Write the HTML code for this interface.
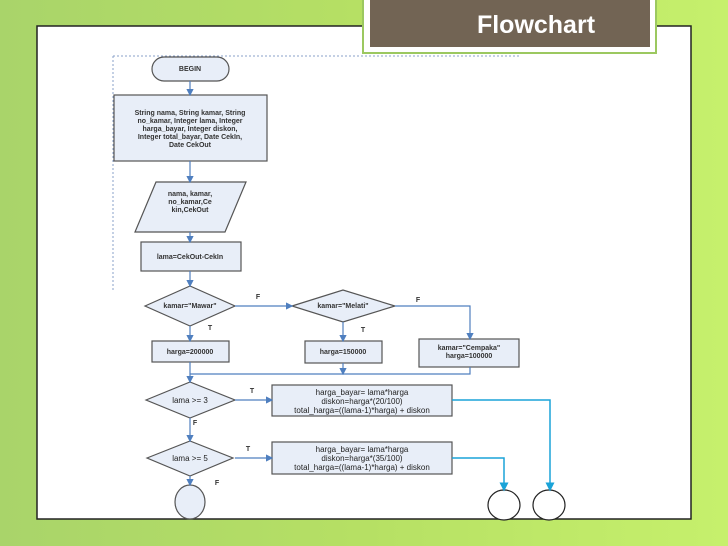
<!DOCTYPE html><html><head><style>body{margin:0}svg{display:block}</style></head><body>
<svg width="728" height="546" viewBox="0 0 728 546" xmlns="http://www.w3.org/2000/svg" font-family="Liberation Sans, sans-serif">
<defs>
<linearGradient id="bg" x1="0" x2="1"><stop offset="0" stop-color="#a9d46a"/><stop offset="0.5" stop-color="#b6e064"/><stop offset="1" stop-color="#c6f06c"/></linearGradient>
<marker id="a" markerWidth="6" markerHeight="6" refX="5" refY="3" orient="auto"><path d="M0,0L6,3L0,6z" fill="#4f7fbf"/></marker>
<marker id="c" markerWidth="6" markerHeight="6" refX="5" refY="3" orient="auto"><path d="M0,0L6,3L0,6z" fill="#1aa3d8"/></marker>
</defs>
<rect width="728" height="546" fill="url(#bg)"/>
<rect x="37" y="26" width="654" height="493" fill="#fff" stroke="#222" stroke-width="1.5"/>
<rect x="363" y="-2" width="293" height="55" fill="#fff" stroke="#9cc860" stroke-width="2"/>
<rect x="370" y="0" width="280" height="47" fill="#726454"/>
<text x="536" y="33" font-size="25" font-weight="bold" fill="#fff" text-anchor="middle">Flowchart</text>
<path d="M113,56H519M113,56V290" stroke="#8aa0c8" stroke-dasharray="2,2" fill="none"/>
<g fill="#e8eef8" stroke="#555" stroke-width="1.2">
<rect x="152" y="57" width="77" height="24" rx="12"/>
<rect x="114" y="95" width="153" height="66"/>
<path d="M156,182H246L225,232H135Z"/>
<rect x="141" y="242" width="100" height="29"/>
<path d="M145,306L190,286L235,306L190,326Z"/>
<path d="M292,306L343,290L395,306L343,322Z"/>
<rect x="152" y="341" width="77" height="21"/>
<rect x="305" y="341" width="77" height="22"/>
<rect x="419" y="339" width="100" height="28"/>
<path d="M146,400L190,382L235,400L190,418Z"/>
<rect x="272" y="385" width="180" height="31"/>
<path d="M147,458L190,441L233,458L190,476Z"/>
<rect x="272" y="442" width="180" height="32"/>
<ellipse cx="190" cy="502" rx="15" ry="17"/>
</g>
<g fill="#fff" stroke="#222" stroke-width="1.2">
<ellipse cx="504" cy="505" rx="16" ry="15"/>
<ellipse cx="549" cy="505" rx="16" ry="15"/>
</g>
<g stroke="#4f7fbf" stroke-width="1.2" fill="none" marker-end="url(#a)">
<path d="M190,81V95"/><path d="M190,161V182"/><path d="M190,232V242"/><path d="M190,271V286"/>
<path d="M235,306H292"/><path d="M395,306H470V339"/>
<path d="M190,326V341"/><path d="M343,322V341"/>
<path d="M343,363V374"/>
<path d="M190,362V382"/>
<path d="M235,400H272"/><path d="M190,418V441"/><path d="M235,458H272"/><path d="M190,476V485"/>
</g>
<path d="M470,367V374H190" stroke="#4f7fbf" stroke-width="1.2" fill="none"/>
<g stroke="#1aa3d8" stroke-width="1.5" fill="none" marker-end="url(#c)">
<path d="M452,400H550V490"/><path d="M452,458H504V490"/>
</g>
<g font-size="7" font-weight="bold" fill="#333" text-anchor="middle">
<text x="190" y="71">BEGIN</text>
<text x="190" y="115">String nama, String kamar, String</text>
<text x="190" y="123">no_kamar,  Integer lama, Integer</text>
<text x="190" y="131">harga_bayar, Integer diskon,</text>
<text x="190" y="139">Integer total_bayar, Date CekIn,</text>
<text x="190" y="147">Date CekOut</text>
<text x="190" y="196">nama, kamar,</text>
<text x="190" y="204">no_kamar,Ce</text>
<text x="190" y="212">kin,CekOut</text>
<text x="190" y="259">lama=CekOut-CekIn</text>
<text x="190" y="308">kamar="Mawar"</text>
<text x="343" y="308">kamar="Melati"</text>
<text x="190" y="354">harga=200000</text>
<text x="343" y="354">harga=150000</text>
<text x="469" y="350">kamar="Cempaka"</text>
<text x="469" y="358">harga=100000</text>
<text x="258" y="299">F</text><text x="418" y="302">F</text>
<text x="210" y="330">T</text><text x="363" y="332">T</text>
<text x="252" y="393">T</text><text x="195" y="425">F</text>
<text x="248" y="451">T</text><text x="217" y="485">F</text>
</g>
<g font-size="8" fill="#222" text-anchor="middle">
<text x="190" y="403">lama &gt;= 3</text>
<text x="190" y="461">lama &gt;= 5</text>
<text x="362" y="395">harga_bayar= lama*harga</text>
<text x="362" y="404">diskon=harga*(20/100)</text>
<text x="362" y="413">total_harga=((lama-1)*harga) + diskon</text>
<text x="362" y="452">harga_bayar= lama*harga</text>
<text x="362" y="461">diskon=harga*(35/100)</text>
<text x="362" y="470">total_harga=((lama-1)*harga) + diskon</text>
</g>
</svg>
</body></html>
